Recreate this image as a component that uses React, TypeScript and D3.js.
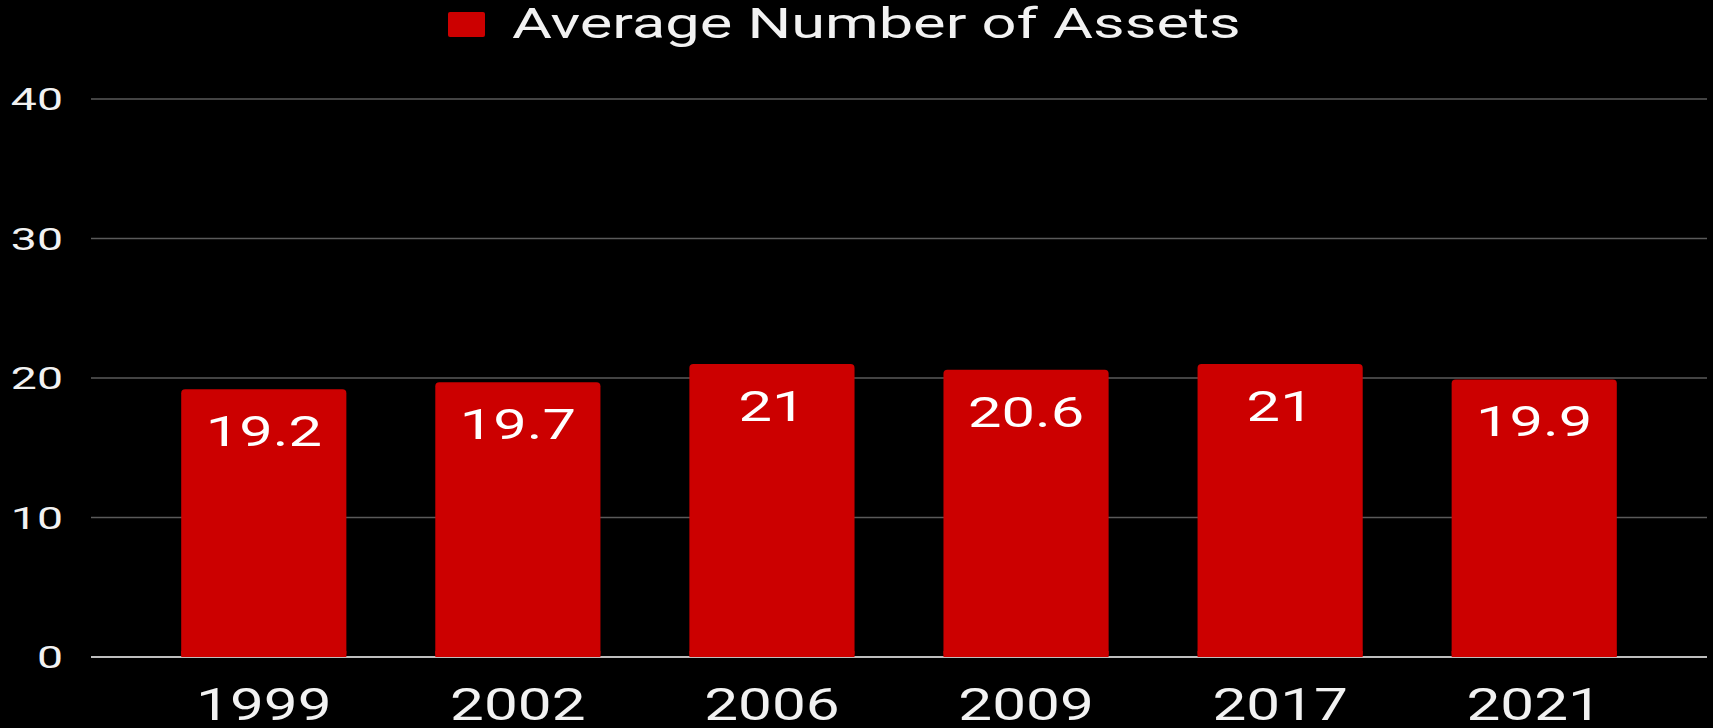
import React from "react";
import * as d3 from "d3";

const categories = ["1999", "2002", "2006", "2009", "2017", "2021"];
const values = [19.2, 19.7, 21, 20.6, 21, 19.9];
const yTicks = [0, 10, 20, 30, 40];
const seriesName = "Average Number of Assets";

const W = 1713;
const H = 728;
const SX = 1.4;
const FONT = "Roboto, 'Noto Sans', sans-serif";

export default function App() {
  const x = d3
    .scaleBand<string>()
    .domain(categories)
    .range([91, 1707])
    .paddingInner(0.35)
    .paddingOuter(0.355);
  const y = d3.scaleLinear().domain([0, 40]).range([657, 99]);

  const st = (tx: number, ty: number, sx: number = SX) =>
    `translate(${tx},${ty}) scale(${sx},1)`;

  return (
    <svg
      width={W}
      height={H}
      style={{ position: "fixed", left: 0, top: 0, display: "block", background: "#000" }}
    >
      <rect x={0} y={0} width={W} height={H} fill="#000" />
      {yTicks.map((t) => (
        <g key={t}>
          <line
            x1={91}
            x2={1707}
            y1={y(t)}
            y2={y(t)}
            stroke={t === 0 ? "#bdbdbd" : "#5a5a5a"}
            strokeWidth={t === 0 ? 2 : 1.3}
          />
          <text
            transform={st(63, y(t) + 11, 1.45)}
            textAnchor="end"
            fill="#f2f2f2"
            fontFamily={FONT}
            fontSize={32}
          >
            {t}
          </text>
        </g>
      ))}
      {categories.map((c, i) => {
        const x0 = x(c)!;
        const bw = x.bandwidth();
        const top = y(values[i]);
        return (
          <g key={c}>
            <rect
              x={x0}
              y={top}
              width={bw}
              height={y(0) - top}
              rx={4}
              ry={4}
              fill="#cc0000"
            />
            <rect x={x0} y={y(0) - 6} width={bw} height={6} fill="#cc0000" />
            <text
              transform={st(x0 + bw / 2, top + 57, 1.42)}
              textAnchor="middle"
              fill="#ffffff"
              fontFamily={FONT}
              fontSize={42}
            >
              {String(values[i])}
            </text>
            <text
              transform={st(x0 + bw / 2, 720, 1.37)}
              textAnchor="middle"
              fill="#f2f2f2"
              fontFamily={FONT}
              fontSize={44}
            >
              {c}
            </text>
          </g>
        );
      })}
      <rect x={448} y={12} width={37} height={25} rx={2} fill="#cc0000" />
      <text
        transform={st(512, 38, 1.46)}
        textAnchor="start"
        fill="#f2f2f2"
        fontFamily={FONT}
        fontSize={42}
      >
        {seriesName}
      </text>
    </svg>
  );
}
